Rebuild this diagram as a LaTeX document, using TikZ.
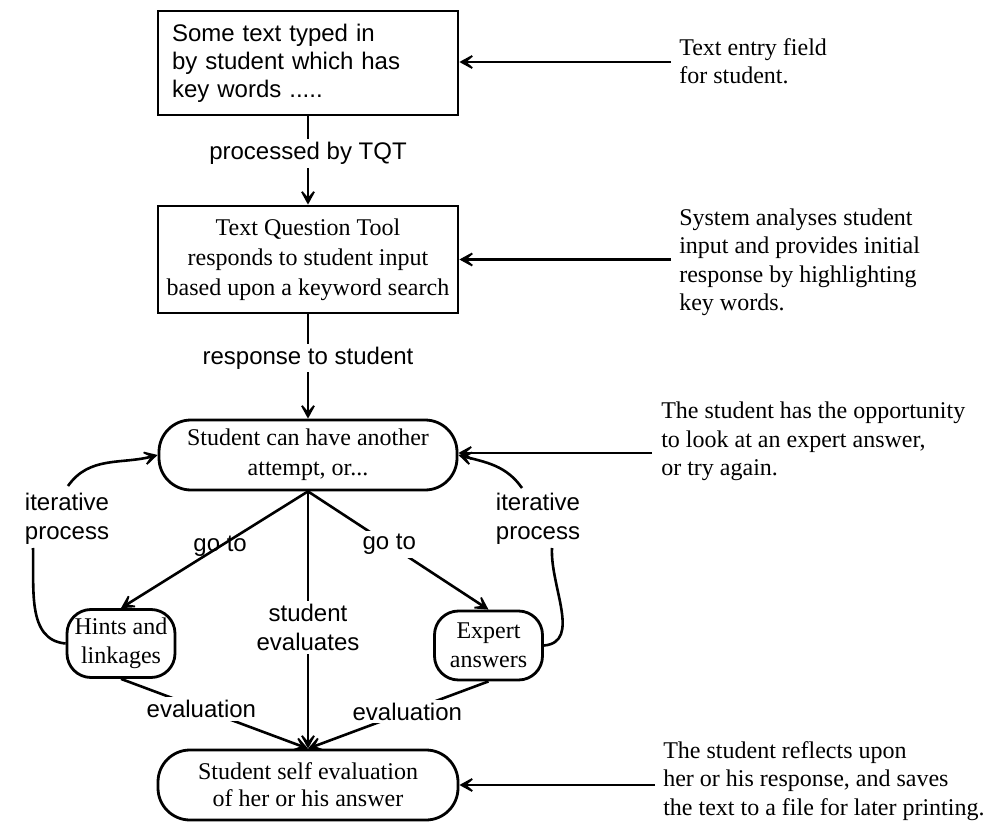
\documentclass[tikz,border=0pt]{standalone}
\usepackage{fontspec}
\setmainfont{Liberation Serif}
\newfontfamily\lsans{Liberation Sans}
\usetikzlibrary{arrows.meta}
\begin{document}
\begin{tikzpicture}[x=0.5pt,y=-0.5pt,
  line width=1.3pt,
  font=\fontsize{12}{14.5}\selectfont,
  arr/.style={-{Stealth[length=10pt,width=11pt,inset=6.5pt]}},
  sqbox/.style={draw, line width=1.4pt, minimum width=150pt, inner sep=4pt},
  rbox/.style={draw, line width=1.4pt, rounded corners=16pt, align=center, inner sep=2pt},
  smallbox/.style={draw, line width=1.4pt, rounded corners=12pt, align=center, inner sep=1pt, minimum width=54pt, minimum height=34pt},
  lab/.style={font=\lsans\fontsize{12}{14.5}\selectfont, fill=white, inner sep=1.5pt, align=center},
  labnf/.style={font=\lsans\fontsize{12}{14.5}\selectfont, inner sep=1.5pt, align=center},
  note/.style={anchor=west, align=left, inner sep=0pt, font=\fontsize{12}{14.25}\selectfont}
]
\useasboundingbox (0,0) rectangle (997,824);

% main boxes
\node[sqbox, minimum height=52pt, text width=136pt, inner xsep=7pt, align=left,
      font=\lsans\fontsize{12}{14}\selectfont] (b1) at (308,63)
  {Some text typed in\\by student which has\\key words .....};
\node[sqbox, minimum height=53.5pt, align=center, font=\fontsize{12}{15}\selectfont] (b2) at (308,259.5)
  {Text Question Tool\\responds to student input\\based upon a keyword search};
\node[rbox, minimum width=149pt, minimum height=35pt, font=\fontsize{12}{15}\selectfont] (s1) at (308,455)
  {Student can have another\\attempt, or...};
\node[smallbox] (hints) at (121,643.5) {Hints and\\linkages};
\node[smallbox, minimum height=34.5pt] (expert) at (488.5,645.5) {Expert\\answers};
\node[rbox, minimum width=150pt, minimum height=35pt, font=\fontsize{12}{13.5}\selectfont] (self) at (308,785)
  {Student self evaluation\\of her or his answer};

% right notes
\node[note] (n1) at (678,61) {Text entry field\\for student.};
\node[note] (n2) at (678,262.5) {System analyses student\\input and provides initial\\response by highlighting\\key words.};
\node[note] (n3) at (660,441.5) {The student has the opportunity\\to look at an expert answer,\\or try again.};
\node[note] (n4) at (662,781) {The student reflects upon\\her or his response, and saves\\the text to a file for later printing.};

\coordinate (a1) at (671,62);
\coordinate (a2) at (671,259.5);
\coordinate (a3) at (652,453);
\coordinate (a4) at (655,785);
\draw[arr] (a1) -- (b1.east |- a1);
\draw[arr] (a2) -- (b2.east);
\draw[arr] (a3) -- (s1.east |- a3);
\draw[arr] (a4) -- (self.east);

% vertical flow
\draw[arr] (b1.south) -- node[lab, pos=0.42] {processed by TQT} (b2.north);
\draw[arr] (b2.south) -- node[lab, pos=0.42] {response to student} (s1.north);
\draw[arr] (s1.south) -- node[labnf, pos=0.47] {go to} (hints.north);
\draw[arr] (s1.south) -- node[lab, pos=0.45] {go to} (expert.north);
\draw[arr] (s1.south) -- node[lab, pos=0.53] {student\\evaluates} (self.north);
\draw[arr] (hints.south) -- node[lab, pos=0.43] {evaluation} (self.north);
\draw[arr] (expert.south) -- node[lab, pos=0.45] {evaluation} (self.north);

% iterative loops
\node[labnf] (itL) at (67,519) {iterative\\process};
\node[labnf] (itR) at (538,519) {iterative\\process};
\coordinate (cL1) at (33,548);
\coordinate (cL2) at (68,486);
\coordinate (cR1) at (552,548);
\coordinate (cR2) at (522,488);
\draw (cL1) to[out=-88, in=175] (hints.west);
\draw[arr] (cL2) to[out=55, in=195] (s1.west);
\draw (cR1) to[out=-93, in=5] (expert.east);
\draw[arr] (cR2) to[out=125, in=-15] (s1.east);
\end{tikzpicture}
\end{document}
